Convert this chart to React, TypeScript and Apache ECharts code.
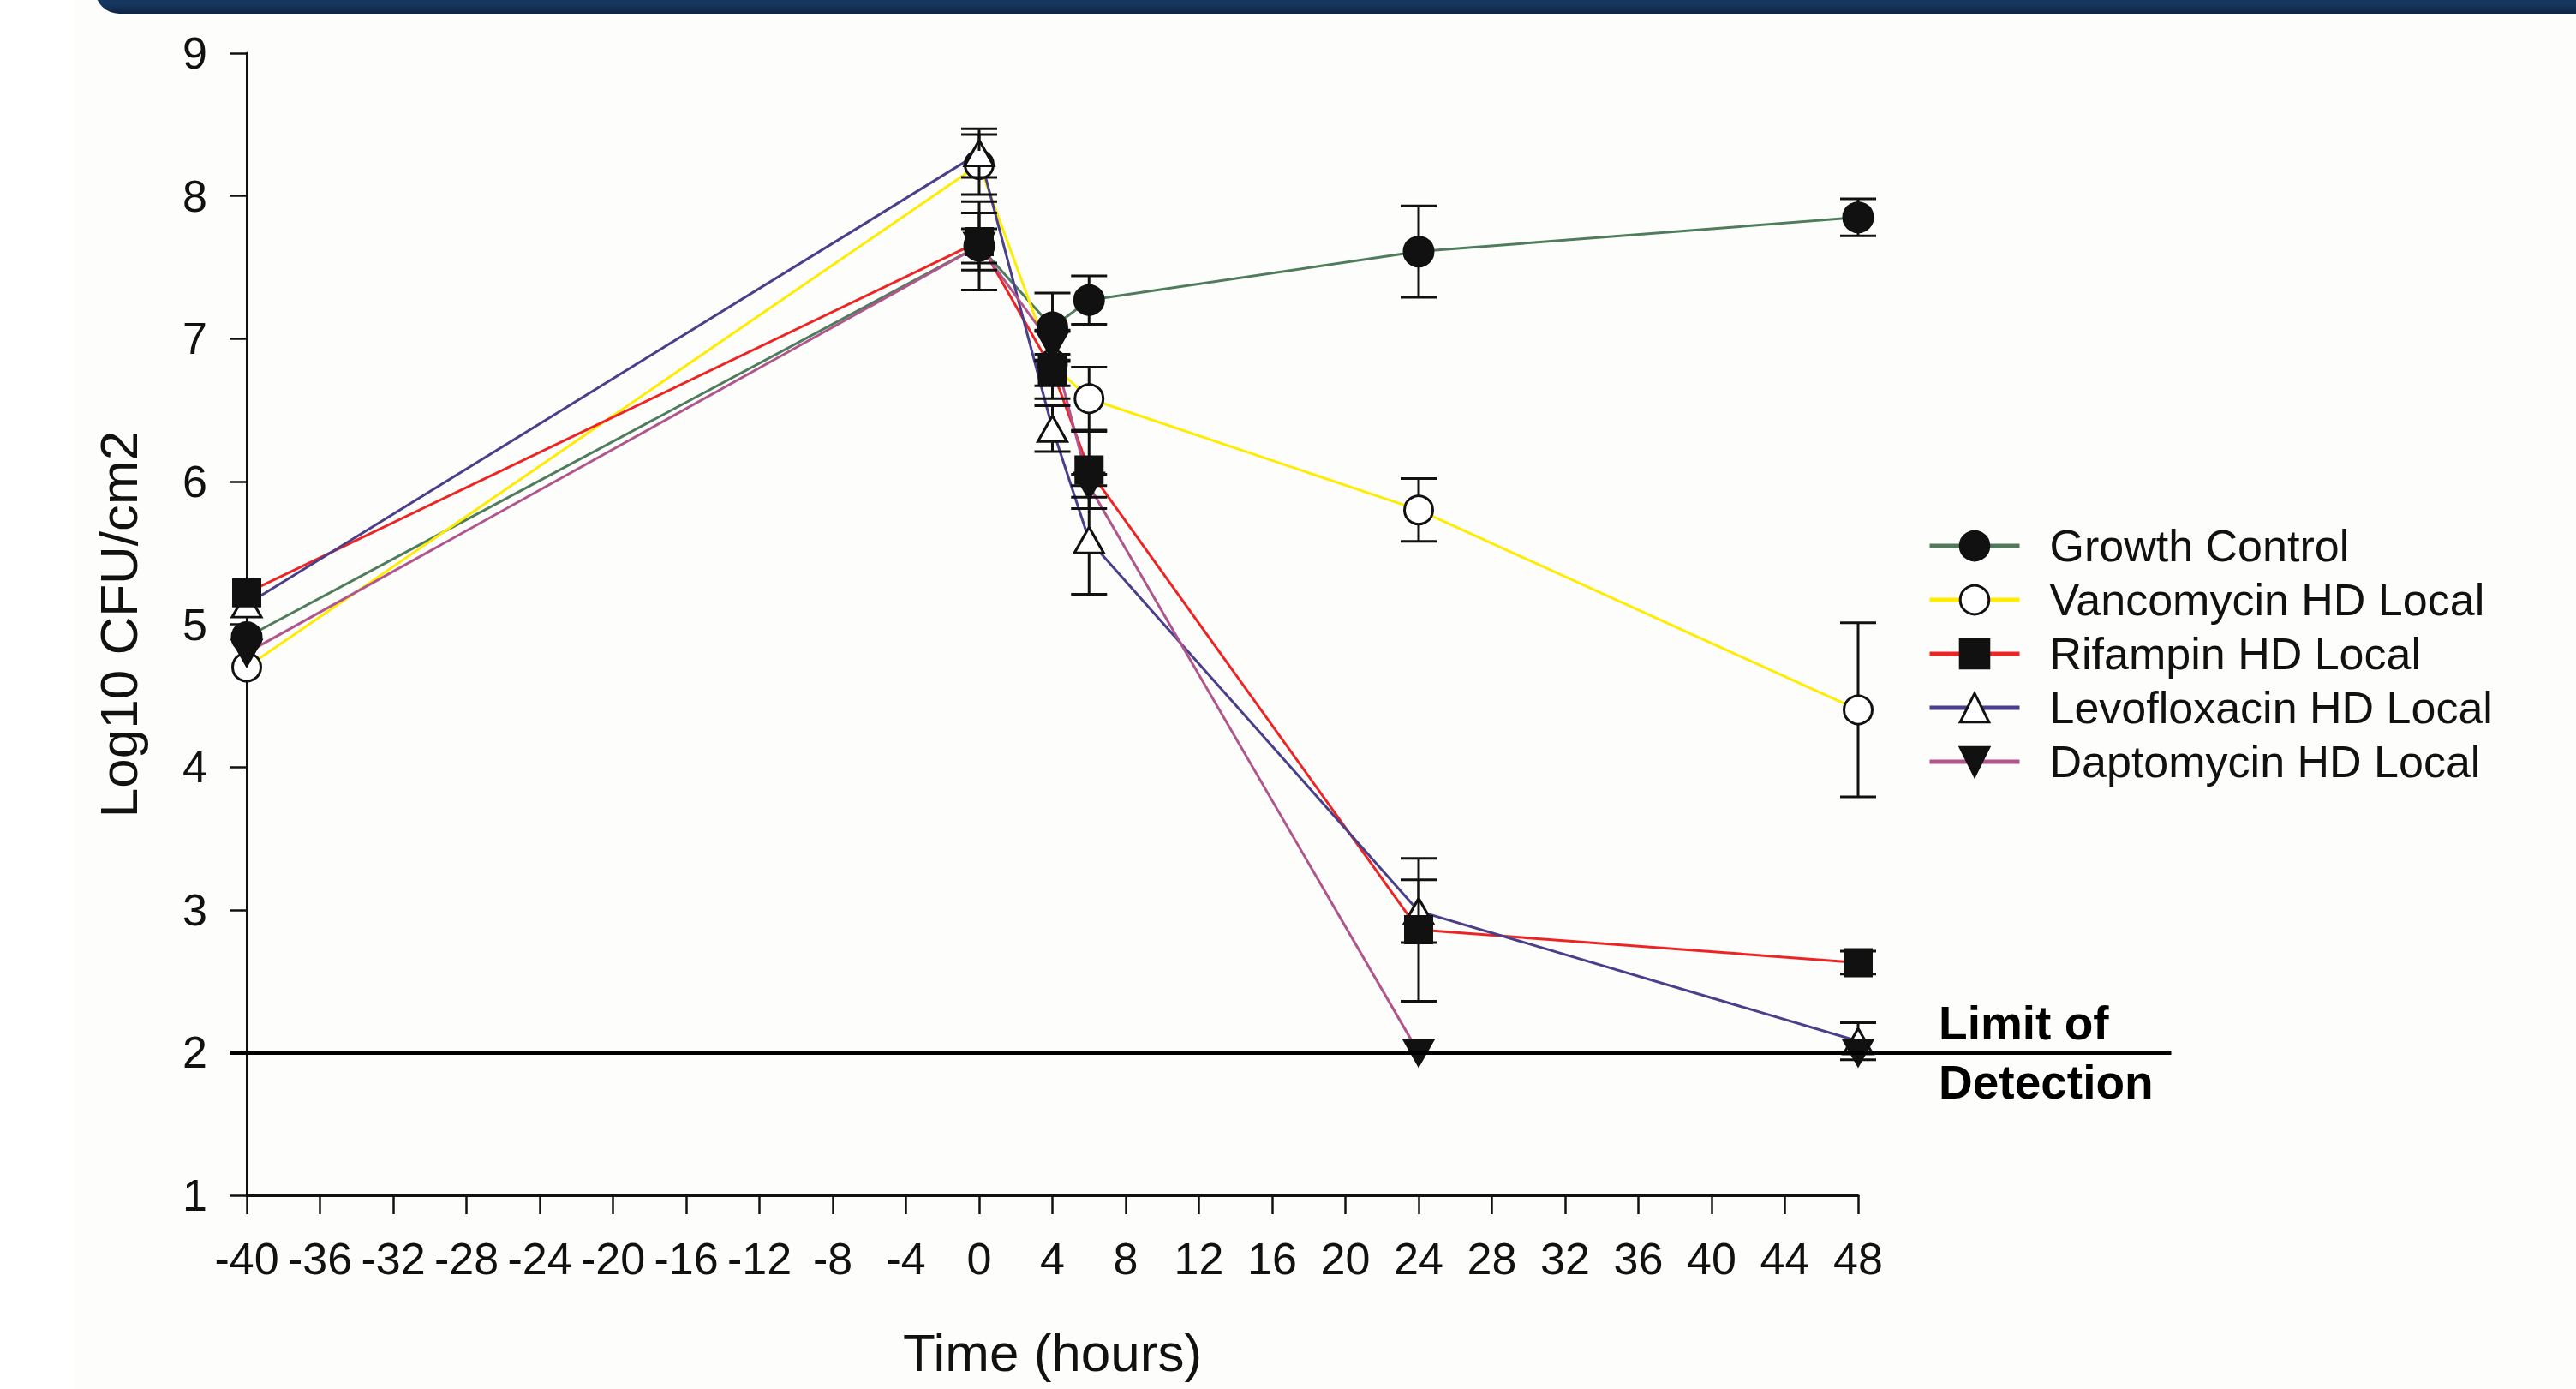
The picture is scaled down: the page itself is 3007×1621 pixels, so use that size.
import React, { useEffect, useRef } from "react";
import * as echarts from "echarts";

// ---------- data ----------
const times = [-40, 0, 4, 6, 24, 48];
const seriesNames = [
  "Growth Control",
  "Vancomycin HD Local",
  "Rifampin HD Local",
  "Levofloxacin HD Local",
  "Daptomycin HD Local",
];
const growthControl = [4.91, 7.65, 7.08, 7.27, 7.61, 7.85];
const growthControlErr = [0, 0.31, 0.24, 0.17, 0.32, 0.13];
const vancomycin = [4.7, 8.22, 6.82, 6.58, 5.8, 4.4];
const vancomycinErr = [0, 0.21, 0.24, 0.22, 0.22, 0.61];
const rifampin = [5.22, 7.68, 6.78, 6.08, 2.86, 2.63];
const rifampinErr = [0, 0.2, 0.11, 0.27, 0.5, 0.08];
const levofloxacin = [5.14, 8.3, 6.37, 5.59, 2.99, 2.08];
const levofloxacinErr = [0, 0.17, 0.16, 0.38, 0.22, 0.13];
const daptomycin = [4.8, 7.65, 6.95, 5.97, 2.0, 2.0];
const daptomycinErr = [0, 0.12, 0.1, 0.08, 0, 0];

const xMin = -40;
const xMax = 48;
const xStep = 4;
const yMin = 1;
const yMax = 9;
const yStep = 1;
const xTitle = "Time (hours)";
const yTitle = "Log10 CFU/cm2";
const lodValue = 2;
const lodFrom = -40.9;
const lodTo = 65.1;
const lodLabelX = 52.4;
const lodLabel = "Limit of\nDetection";

// ---------- styles ----------
const FONT = "'Liberation Sans', Arial, Helvetica, sans-serif";
const lineColors = ["#4f7c5c", "#ffec00", "#ee2424", "#4a3f8a", "#b0568c"];
const symbols = ["circle", "circle", "rect", "triangle", "triangle"];
const rotations = [0, 0, 0, 0, 180];
const fills = ["#111111", "#ffffff", "#111111", "#ffffff", "#111111"];
const sizes: any[] = [34, 33, 31, [34, 30], [34, 30]];
const drawOrder = [0, 1, 3, 2, 4];

const values = [growthControl, vancomycin, rifampin, levofloxacin, daptomycin];
const errors = [growthControlErr, vancomycinErr, rifampinErr, levofloxacinErr, daptomycinErr];

export default function App() {
  const ref = useRef<HTMLDivElement>(null);

  useEffect(() => {
    if (!ref.current) return;
    const chart = echarts.init(ref.current, undefined, { renderer: "svg" });

    const lineSeries = seriesNames.map((name, i) => ({
      type: "line",
      name,
      z: 2,
      data: times.map((t, k) => [t, values[i][k]]),
      showSymbol: false,
      symbol: symbols[i],
      symbolRotate: rotations[i],
      lineStyle: { color: lineColors[i], width: 3 },
      itemStyle: { color: fills[i], borderColor: "#111", borderWidth: 3 },
      emphasis: { disabled: true },
      silent: true,
    }));

    const scatterSeries = drawOrder.map((i) => ({
      type: "scatter",
      name: seriesNames[i],
      z: 3,
      data: times.map((t, k) => [t, values[i][k]]),
      symbol: symbols[i],
      symbolRotate: rotations[i],
      symbolSize: sizes[i],
      itemStyle: { color: fills[i], borderColor: "#111", borderWidth: 3, opacity: 1 },
      emphasis: { disabled: true },
      silent: true,
    }));

    const errorSeries = seriesNames.map((name, i) => ({
      type: "custom",
      name,
      z: 4,
      silent: true,
      data: times.map((t, k) => [t, values[i][k], errors[i][k]]),
      encode: { x: 0, y: 1 },
      renderItem: (params: any, api: any) => {
        const x = api.value(0);
        const y = api.value(1);
        const e = api.value(2);
        if (!e) return { type: "group", children: [] };
        const c = api.coord([x, y]);
        const hi = api.coord([x, y + e]);
        const lo = api.coord([x, y - e]);
        const r = 16;
        const half = 21;
        const st = { stroke: "#111", lineWidth: 3 };
        const children: any[] = [];
        if (c[1] - hi[1] > r) {
          children.push({ type: "line", shape: { x1: c[0], y1: c[1] - r, x2: c[0], y2: hi[1] }, style: st });
        }
        children.push({ type: "line", shape: { x1: c[0] - half, y1: hi[1], x2: c[0] + half, y2: hi[1] }, style: st });
        if (lo[1] - c[1] > r) {
          children.push({ type: "line", shape: { x1: c[0], y1: c[1] + r, x2: c[0], y2: lo[1] }, style: st });
        }
        children.push({ type: "line", shape: { x1: c[0] - half, y1: lo[1], x2: c[0] + half, y2: lo[1] }, style: st });
        return { type: "group", children };
      },
    }));

    const option: any = {
      animation: false,
      backgroundColor: "#ffffff",
      textStyle: { fontFamily: FONT },
      grid: { left: 288, top: 62, width: 1881, height: 1333, containLabel: false },
      legend: {
        orient: "vertical",
        left: 2250,
        top: 609,
        padding: 0,
        itemWidth: 105,
        itemHeight: 42,
        itemGap: 7,
        selectedMode: false,
        textStyle: { fontFamily: FONT, fontSize: 52, color: "#111", lineHeight: 56, padding: [0, 0, 0, 30] },
        data: seriesNames.map((name, i) => ({
          name,
          itemStyle: { color: fills[i], borderColor: "#111", borderWidth: 3 },
          lineStyle: { color: lineColors[i], width: 5 },
        })),
      },
      xAxis: {
        type: "value",
        min: xMin,
        max: xMax,
        interval: xStep,
        name: xTitle,
        nameLocation: "middle",
        nameGap: 152,
        nameTextStyle: { fontFamily: FONT, fontSize: 62, color: "#111" },
        axisLine: { onZero: false, lineStyle: { color: "#111", width: 3 } },
        axisTick: { length: 22, lineStyle: { color: "#111", width: 2.5 } },
        axisLabel: { fontFamily: FONT, fontSize: 52, color: "#111", margin: 48 },
        splitLine: { show: false },
      },
      yAxis: {
        type: "value",
        min: yMin,
        max: yMax,
        interval: yStep,
        name: yTitle,
        nameLocation: "middle",
        nameGap: 119,
        nameTextStyle: { fontFamily: FONT, fontSize: 62, color: "#111" },
        axisLine: { show: true, onZero: false, lineStyle: { color: "#111", width: 3 } },
        axisTick: { show: true, length: 20, lineStyle: { color: "#111", width: 2.5 } },
        axisLabel: { fontFamily: FONT, fontSize: 52, color: "#111", margin: 46 },
        splitLine: { show: false },
      },
      series: [...lineSeries, ...scatterSeries, ...errorSeries],
    };
    chart.setOption(option);

    const p1 = chart.convertToPixel({ gridIndex: 0 }, [lodFrom, lodValue]) as number[];
    const p2 = chart.convertToPixel({ gridIndex: 0 }, [lodTo, lodValue]) as number[];
    const pt = chart.convertToPixel({ gridIndex: 0 }, [lodLabelX, lodValue]) as number[];

    chart.setOption({
      graphic: [
        {
          type: "rect",
          z: -10,
          silent: true,
          shape: { x: 86, y: 0, width: 2921, height: 1621 },
          style: { fill: "#fdfdfb" },
        },
        {
          type: "rect",
          z: 20,
          silent: true,
          shape: { x: 111, y: -40, width: 2940, height: 56, r: 30 },
          style: {
            fill: new echarts.graphic.LinearGradient(0, 0, 0, 1, [
              { offset: 0, color: "#1d3d68" },
              { offset: 0.8, color: "#17365f" },
              { offset: 1, color: "#0d2442" },
            ]),
          },
        },
        {
          type: "line",
          z: 10,
          silent: true,
          shape: { x1: p1[0], y1: p1[1], x2: p2[0], y2: p2[1] },
          style: { stroke: "#000", lineWidth: 5 },
        },
        {
          type: "text",
          z: 10,
          silent: true,
          x: pt[0],
          y: pt[1],
          style: {
            text: lodLabel,
            fontFamily: FONT,
            fontSize: 55,
            fontWeight: "bold",
            fill: "#000",
            lineHeight: 69,
            align: "left",
            verticalAlign: "middle",
          },
        },
      ],
    });

    return () => chart.dispose();
  }, []);

  return (
    <div
      ref={ref}
      style={{ position: "fixed", left: 0, top: 0, width: 3007, height: 1621, background: "#fff" }}
    />
  );
}
